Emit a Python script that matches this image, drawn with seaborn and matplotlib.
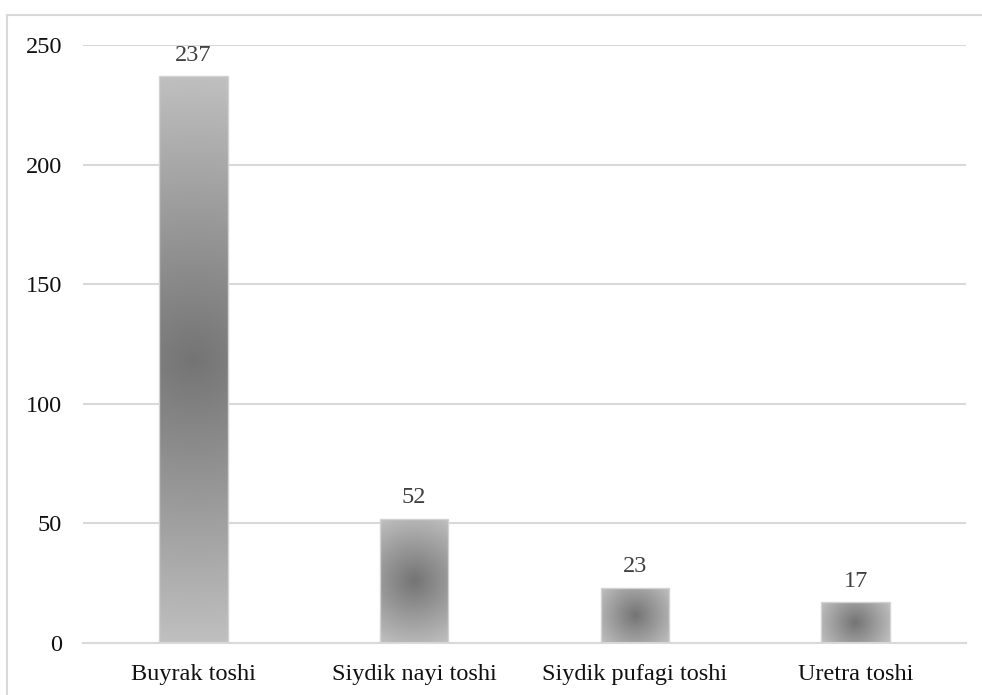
import numpy as np
import pandas as pd
import matplotlib
matplotlib.use("Agg")
import matplotlib.pyplot as plt
from matplotlib.lines import Line2D
import seaborn as sns

# Urinary stone locations and case counts
categories = ["Buyrak toshi", "Siydik nayi toshi", "Siydik pufagi toshi", "Uretra toshi"]
counts = [237, 52, 23, 17]
y_ticks = [0, 50, 100, 150, 200, 250]

df = pd.DataFrame({"joy": categories, "soni": counts})

sns.set_theme(style="white")
plt.rcParams["font.family"] = ["Liberation Serif", "DejaVu Serif"]

fig = plt.figure(figsize=(9.82, 6.95), dpi=100)
ax = fig.add_axes([83 / 982, 1 - 643 / 695, (966 - 83) / 982, (643 - 45) / 695])

sns.barplot(data=df, x="joy", y="soni", ax=ax, width=0.31,
            color="#a0a0a0", edgecolor="#d2d2d2", linewidth=1.0, zorder=3)

ax.set_ylim(0, 250)
ax.set_xlim(-0.5, len(categories) - 0.5)
ax.set_yticks(y_ticks)
ax.set_xlabel("")
ax.set_ylabel("")
ax.grid(axis="y", color="#d9d9d9", linewidth=1.5, zorder=0)
ax.set_axisbelow(True)
for side in ["top", "right", "left"]:
    ax.spines[side].set_visible(False)
ax.spines["bottom"].set_color("#d9d9d9")
ax.spines["bottom"].set_linewidth(1.5)
ax.tick_params(axis="y", length=0, pad=15, labelsize=17.5, labelcolor="#111111")
ax.tick_params(axis="x", length=0, pad=15, labelsize=17.5, labelcolor="#111111")

# Radial grey gradient inside every bar: dark centre, light corners
fig.canvas.draw()
c_center, c_edge = 116.0, 192.0
for patch, val in zip(ax.patches, counts):
    x0, y0 = patch.get_x(), patch.get_y()
    w, h = patch.get_width(), patch.get_height()
    p0 = ax.transData.transform((x0, y0))
    p1 = ax.transData.transform((x0 + w, y0 + h))
    hw, hh = abs(p1[0] - p0[0]) / 2, abs(p1[1] - p0[1]) / 2
    nx, ny = max(int(hw * 2), 2), max(int(hh * 2), 2)
    gx = np.linspace(-1, 1, nx)
    gy = np.linspace(-1, 1, ny)
    X, Y = np.meshgrid(gx, gy)
    d = np.sqrt((X * hw) ** 2 + (Y * hh) ** 2) / np.sqrt(hw ** 2 + hh ** 2)
    g = (c_center + (c_edge - c_center) * d) / 255.0
    rgb = np.dstack([g, g, g])
    im = ax.imshow(rgb, extent=[x0, x0 + w, y0, y0 + h], origin="lower",
                   aspect="auto", interpolation="bilinear", zorder=2.5)
    im.set_clip_path(patch)
    patch.set_facecolor("none")
    ax.text(x0 + w / 2, val + 8.8, f"{val}", ha="center", va="center",
            fontsize=17.5, color="#404040", zorder=4)

ax.set_xlim(-0.5, len(categories) - 0.5)
ax.set_ylim(0, 250)

# Light outer frame of the chart area
fig.add_artist(Line2D([7 / 982, 7 / 982], [0, 1 - 15 / 695], color="#d9d9d9",
                      linewidth=1.5, transform=fig.transFigure))
fig.add_artist(Line2D([7 / 982, 1], [1 - 15 / 695, 1 - 15 / 695], color="#d9d9d9",
                      linewidth=1.5, transform=fig.transFigure))

fig.savefig("out.png", dpi=100, facecolor="white")
